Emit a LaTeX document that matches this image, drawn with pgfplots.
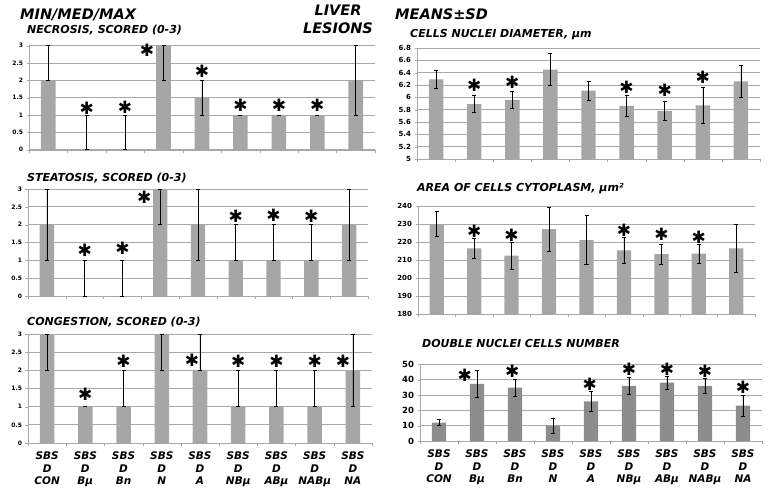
\documentclass[border=0pt]{standalone}
\usepackage{pgfplots}
\pgfplotsset{compat=1.18}
\usepackage{pgfplotstable}
\usepackage{fontspec}
\setmainfont{DejaVu Sans}
\usetikzlibrary{plotmarks}

\definecolor{barlt}{HTML}{A6A6A6}
\definecolor{bardk}{HTML}{8C8C8C}
\definecolor{gridc}{HTML}{A8A8A8}

% left panels: median, error from min to max
\pgfplotstableread{
x y ep em
0 2 1 0
1 0 1 0
2 0 1 0
3 3 0 1
4 1.5 0.5 0.5
5 1 0 0
6 1 0 0
7 1 0 0
8 2 1 1
}\necro
\pgfplotstableread{
x y ep em
0 2 1 1
1 0 1 0
2 0 1 0
3 3 0 1
4 2 1 1
5 1 1 0
6 1 1 0
7 1 1 0
8 2 1 1
}\steat
\pgfplotstableread{
x y ep em
0 3 0 1
1 1 0 0
2 1 1 0
3 3 0 1
4 2 1 0
5 1 1 0
6 1 1 0
7 1 1 0
8 2 1 1
}\conge
% right panels: mean, sd
\pgfplotstableread{
x y e
0 6.29 0.15
1 5.89 0.14
2 5.96 0.14
3 6.45 0.26
4 6.11 0.15
5 5.86 0.17
6 5.78 0.15
7 5.87 0.29
8 6.26 0.26
}\nucl
\pgfplotstableread{
x y e
0 230.0 7.0
1 216.5 5.3
2 212.4 7.3
3 227.1 12.2
4 221.1 13.5
5 215.4 7.4
6 213.2 5.7
7 213.6 5.4
8 216.5 13.6
}\cyto
\pgfplotstableread{
x y e
0 12.0 2.0
1 37.2 8.7
2 34.8 5.5
3 10.0 5.0
4 25.9 6.8
5 35.9 5.7
6 38.0 4.2
7 35.9 5.0
8 23.0 6.6
}\dbl

\newcommand\hd{\bfseries\itshape}
\newcommand\ttl{\fontsize{14.5}{16}\selectfont\hd}
\newcommand\sub{\fontsize{11}{12}\selectfont\hd}
\pgfplotsset{
  panel/.style={
    scale only axis, anchor=north west,
    xmin=-0.5, xmax=8.5,
    axis x line*=bottom, axis y line*=left,
    axis line style={gridc},
    ymajorgrids, grid style={gridc, line width=0.7pt},
    xtick={0,...,8}, xticklabels={},
    minor xtick={-0.5,0.5,...,8.5},
    major x tick style={draw=none},
    tick align=outside, major tick length=2.5pt, minor tick length=3pt,
    tick style={gridc},
    /pgf/number format/assume math mode=true,
    yticklabel style={font=\fontsize{6}{7}\selectfont\bfseries},
    clip=false,
  },
  labs/.style={
    xticklabels={{SBS\\D\\CON},{SBS\\D\\Bμ},{SBS\\D\\Bn},{SBS\\D\\N},{SBS\\D\\A},{SBS\\D\\NBμ},{SBS\\D\\ABμ},{SBS\\D\\NABμ},{SBS\\D\\NA}},
    xticklabel style={align=center, yshift=-3pt, font=\fontsize{10.5}{12.5}\selectfont\hd},
  },
  bars/.style={ybar, bar width=0.38, fill=#1, draw=none,
    error bars/.cd, y dir=both, y explicit,
    error bar style={black, line width=0.6pt},
    error mark options={black, rotate=90, mark size=2pt, line width=0.6pt}},
  stars/.style={only marks, mark=text, text mark={\fontsize{17}{17}\selectfont\bfseries ✱}},
}

\begin{document}
\begin{tikzpicture}
\useasboundingbox (0,0) rectangle (777pt,-491pt);

\node[anchor=base west, font=\ttl, inner sep=0] at (20pt,-19pt) {MIN/MED/MAX};
\node[anchor=base, font=\ttl, inner sep=0] at (338pt,-15pt) {LIVER};
\node[anchor=base, font=\ttl, inner sep=0] at (338pt,-33pt) {LESIONS};
\node[anchor=base west, font=\ttl, inner sep=0] at (395pt,-19pt) {MEANS±SD};

\node[anchor=base west, font=\sub, inner sep=0] at (27pt,-33pt) {NECROSIS, SCORED (0-3)};
\node[anchor=base west, font=\sub, inner sep=0] at (27pt,-181pt) {STEATOSIS, SCORED (0-3)};
\node[anchor=base west, font=\sub, inner sep=0] at (27pt,-325pt) {CONGESTION, SCORED (0-3)};
\node[anchor=base west, font=\sub, inner sep=0] at (410pt,-37pt) {CELLS NUCLEI DIAMETER, μm};
\node[anchor=base west, font=\sub, inner sep=0] at (417pt,-191pt) {AREA OF CELLS CYTOPLASM, μm²};
\node[anchor=base west, font=\sub, inner sep=0] at (422pt,-347pt) {DOUBLE NUCLEI CELLS NUMBER};

% necrosis
\begin{axis}[panel, at={(29pt,-45.7pt)}, width=346pt, height=104pt,
  ymin=0, ymax=3, ytick={0,0.5,...,3}]
\addplot[bars=barlt] table[x=x, y=y, y error plus=ep, y error minus=em]{\necro};
\addplot[stars] coordinates {(1,1.2) (2,1.22) (2.57,2.88) (4,2.27) (5,1.27) (6,1.28) (7,1.27)};
\end{axis}

% steatosis
\begin{axis}[panel, at={(28pt,-189pt)}, width=340pt, height=107pt,
  ymin=0, ymax=3, ytick={0,0.5,...,3}]
\addplot[bars=barlt] table[x=x, y=y, y error plus=ep, y error minus=em]{\steat};
\addplot[stars] coordinates {(1,1.29) (2,1.34) (2.58,2.77) (5,2.23) (6,2.25) (7,2.23)};
\end{axis}

% congestion
\begin{axis}[panel, labs, at={(28pt,-334pt)}, width=344pt, height=109pt,
  ymin=0, ymax=3, ytick={0,0.5,...,3}]
\addplot[bars=barlt] table[x=x, y=y, y error plus=ep, y error minus=em]{\conge};
\addplot[stars] coordinates {(1,1.35) (2,2.26) (3.79,2.29) (5,2.26) (6,2.26) (7,2.26) (7.74,2.26)};
\end{axis}

% nuclei diameter
\begin{axis}[panel, at={(417pt,-48pt)}, width=343pt, height=111pt,
  ymin=5, ymax=6.8, ytick={5,5.2,...,6.81},
  yticklabel style={font=\fontsize{7}{8}\selectfont\bfseries}]
\addplot[bars=barlt] table[x=x, y=y, y error=e]{\nucl};
\addplot[stars] coordinates {(1,6.2) (2,6.24) (5,6.16) (6,6.11) (7,6.33)};
\end{axis}

% cytoplasm area
\begin{axis}[panel, at={(418pt,-206pt)}, width=337pt, height=108pt,
  ymin=180, ymax=240, ytick={180,190,...,240},
  yticklabel style={font=\fontsize{7}{8}\selectfont\bfseries}]
\addplot[bars=barlt] table[x=x, y=y, y error=e]{\cyto};
\addplot[stars] coordinates {(1,225.8) (2,223.9) (5,226.3) (6,224.3) (7,222.7)};
\end{axis}

% double nuclei
\begin{axis}[panel, labs, at={(420pt,-364.3pt)}, width=342pt, height=76.7pt,
  ymin=0, ymax=50, ytick={0,10,...,50},
  yticklabel style={font=\fontsize{8.5}{9}\selectfont\bfseries}]
\addplot[bars=bardk] table[x=x, y=y, y error=e]{\dbl};
\addplot[stars] coordinates {(0.68,42.6) (1.93,45.6) (3.97,37) (5,46.5) (6,46.5) (7,45.4) (8,35.2)};
\end{axis}
\end{tikzpicture}
\end{document}
